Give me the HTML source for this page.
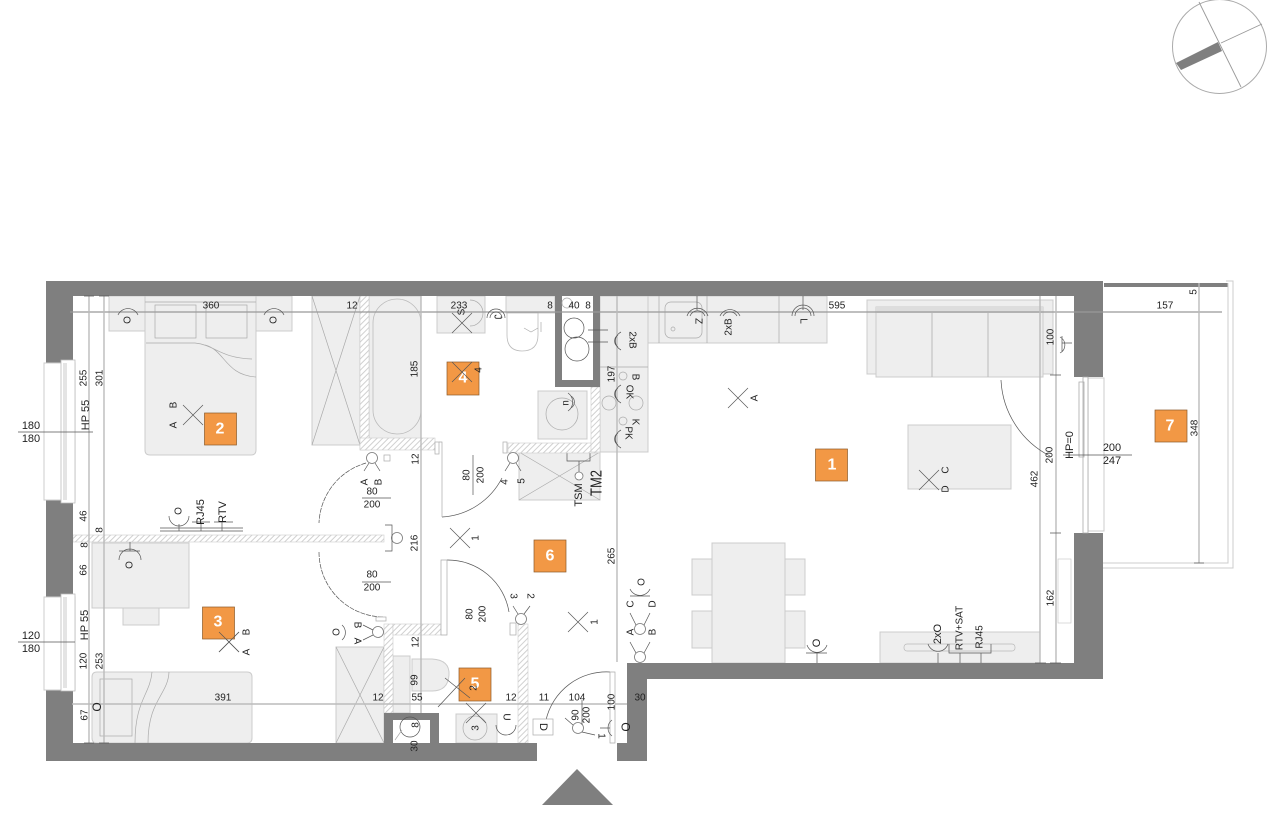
<!DOCTYPE html>
<html><head><meta charset="utf-8"><style>
html,body{margin:0;padding:0;background:#fff}
svg{display:block}
text{font-family:"Liberation Sans",sans-serif;font-size:10px;fill:#222;text-anchor:middle;dominant-baseline:central}
.o{font-size:16px;font-weight:bold;fill:#fff}
.f{fill:#eee;stroke:#ccc;stroke-width:1}
.w{fill:#7f7f7f}
.h{fill:url(#hatch);stroke:#ccc;stroke-width:.6}
.dim{stroke:#bbb;stroke-width:1.4;fill:none}
.d2{stroke:#999;stroke-width:1.3;fill:none}
.l{stroke:#aaa;stroke-width:.7;fill:none}
.k{stroke:#555;stroke-width:.7;fill:none}
.or{fill:#f29845;stroke:#8a5a2a;stroke-width:.7}
.c{fill:#fff;stroke:#777;stroke-width:.8}
.fr{fill:#fff;stroke:#aaa;stroke-width:.7}
</style></head><body>
<svg width="1280" height="832" viewBox="0 0 1280 832" xmlns="http://www.w3.org/2000/svg">
<defs>
<pattern id="hatch" width="4" height="4" patternUnits="userSpaceOnUse" patternTransform="rotate(45)"><rect width="4" height="4" fill="#fff"/><rect width="1" height="4" fill="#d0d0d0"/></pattern>
<g id="x"><path class="k" d="M-10-10L10 10M-10 10L10-10"/></g>
<g id="sw"><circle r="5.500" class="c"/><path class="k" d="M-3 5L-8 13M3 5L8 13"/></g>
</defs>
<rect width="1280" height="832" fill="#fff"/>

<!-- compass -->
<circle cx="1219.500" cy="46.500" r="47" fill="none" stroke="#aaa" stroke-width="1"/>
<path d="M1199 2L1241 87M1221 43L1262 24" stroke="#999" stroke-width=".9" fill="none"/>
<polygon points="1176,63 1218,42 1222,51 1181,70" fill="#7f7f7f"/>

<!-- balcony -->
<rect x="1104" y="283" width="124" height="4" fill="#7f7f7f"/>
<path d="M1103 563H1228V283M1103 568H1233V281H1226" fill="none" stroke="#ccc" stroke-width="1"/>

<!-- furniture -->
<rect class="f" x="109" y="296" width="36" height="35"/>
<rect class="f" x="256" y="296" width="36" height="35"/>
<path class="f" d="M145 296H256V450Q256 455 251 455H150Q145 455 145 450Z"/>
<path class="l" d="M145 302H256M146 343H195C215 345 220 358 252 359M205 345C225 350 225 375 256 377"/>
<rect class="l" x="155" y="305" width="41" height="33"/><rect class="l" x="206" y="305" width="41" height="33"/>
<rect class="f" x="312" y="296" width="48" height="149"/><path class="l" d="M312 296L360 445M360 296L312 445"/>
<rect class="f" x="369" y="296" width="52" height="144"/><rect x="373" y="299" width="48" height="135" rx="24" fill="none" stroke="#bbb" stroke-width=".8"/>
<rect class="f" x="92" y="543" width="97" height="65"/><rect class="f" x="123" y="608" width="36" height="17"/>
<path class="f" d="M97 672H247Q252 672 252 677V738Q252 743 247 743H97Q92 743 92 738V677Q92 672 97 672Z"/>
<rect class="l" x="100" y="679" width="32" height="57"/>
<path class="l" d="M152 672C150 695 135 700 135 743M169 672C168 695 148 700 148 743"/>
<rect class="f" x="336" y="647" width="48" height="96"/><path class="l" d="M336 647L384 743M384 647L336 743"/>

<!-- bathroom -->
<rect class="f" x="437" y="296" width="48" height="37"/>
<path class="l" d="M470 300A13 13 0 0 1 470 326"/>
<rect class="f" x="506" y="296" width="49" height="17"/>
<path d="M507 313H538V335Q538 351 522 351Q507 351 507 335Z" fill="#fff" stroke="#bbb" stroke-width=".8"/>
<path class="l" d="M524 328L531 332L538 328M541 322V332"/>
<rect class="f" x="538" y="391" width="49" height="48"/><circle cx="562" cy="414" r="16" class="l"/>
<path class="k" d="M568 393A11 11 0 0 1 568 411M571 396A7 7 0 0 1 571 408"/>
<path class="f" d="M519 452H600V500H519Z"/><path class="l" d="M519 452L600 500M519 500L600 452"/>
<path class="k" d="M567 452V461H590V452M579 461V472"/>

<!-- toilet / basin -->
<rect class="f" x="393" y="656" width="17" height="57"/>
<path d="M412 659H432Q450 660 449 675Q448 691 432 691H412Z" fill="#eee" stroke="#ccc"/>
<rect class="f" x="456" y="714" width="41" height="29"/><circle cx="475" cy="728" r="12" class="l"/>

<!-- kitchen -->
<rect class="f" x="600" y="296" width="227" height="47" stroke="none"/>
<rect class="f" x="600" y="296" width="48" height="156"/>
<path class="l" d="M659 296V343M707 296V343M779 296V343M600 367H648"/>
<rect x="665" y="302" width="37" height="36" rx="6" class="l"/>
<circle cx="673" cy="329" r="2" class="l"/>
<circle cx="623" cy="376" r="4" class="l"/><circle cx="623" cy="421" r="4" class="l"/>
<circle cx="609" cy="403" r="7" class="l"/><circle cx="636" cy="403" r="7" class="l"/>

<!-- living -->
<rect class="f" x="867" y="300" width="186" height="74"/>
<rect class="f" x="876" y="307" width="167" height="70"/>
<rect x="876" y="307" width="167" height="6" fill="#ddd"/>
<path d="M932 313V377M988 313V377" stroke="#bbb" stroke-width="1"/>
<rect class="f" x="908" y="425" width="103" height="64"/>
<rect class="f" x="712" y="543" width="73" height="120"/>
<rect class="f" x="692" y="559" width="20" height="36"/><rect class="f" x="692" y="611" width="20" height="37"/>
<rect class="f" x="785" y="559" width="20" height="36"/><rect class="f" x="785" y="611" width="20" height="37"/>
<rect class="f" x="880" y="632" width="160" height="31" stroke="none"/>
<rect x="904" y="644" width="111" height="7" rx="3" fill="none" stroke="#bbb" stroke-width=".7"/>
<rect x="1058" y="559" width="13" height="64" fill="#fff" stroke="#ccc" stroke-width=".7"/>

<!-- hatched partitions -->
<rect class="h" x="73" y="535" width="311" height="7"/>
<rect class="h" x="360" y="296" width="9" height="154"/>
<rect class="h" x="360" y="438" width="75" height="12"/>
<rect class="h" x="508" y="443" width="92" height="10"/>
<rect class="h" x="591" y="387" width="9" height="65"/>
<rect class="h" x="384" y="624" width="9" height="89"/>
<rect class="h" x="393" y="624" width="48" height="11"/>
<rect class="h" x="518" y="624" width="10" height="119"/>

<!-- walls -->
<rect class="w" x="46" y="281" width="1057" height="15"/>
<rect class="w" x="46" y="281" width="27" height="82"/>
<rect class="w" x="46" y="500" width="27" height="97"/>
<rect class="w" x="46" y="690" width="27" height="71"/>
<rect class="w" x="46" y="743" width="491" height="18"/>
<rect class="w" x="617" y="743" width="30" height="18"/>
<rect class="w" x="627" y="663" width="20" height="98"/>
<rect class="w" x="627" y="663" width="476" height="16"/>
<rect class="w" x="1074" y="281" width="29" height="96"/>
<rect class="w" x="1074" y="533" width="29" height="146"/>
<path class="w" fill-rule="evenodd" d="M555 296H600V387H555ZM562 296V380H593V296Z"/>
<path class="w" fill-rule="evenodd" d="M384 713H439V743H384ZM393 720V743H430V720Z"/>
<polygon class="w" points="542,805 577,769 613,805"/>

<!-- shaft fixtures -->
<circle cx="574" cy="328" r="10" class="k"/><circle cx="577" cy="349" r="12" class="k"/>
<circle cx="567" cy="303" r="5" class="l"/><path class="k" d="M588 342H608M588 330H608"/>
<circle cx="410" cy="727" r="10" class="k"/><path class="l" d="M395 740L402 730"/>

<!-- windows -->
<rect x="44" y="363" width="31" height="137" fill="#fff" stroke="#ccc"/>
<path d="M61 360H75V503H61ZM64 363V500M66 363V500" fill="#fff" stroke="#bbb" stroke-width=".8"/>
<rect x="44" y="597" width="31" height="93" fill="#fff" stroke="#ccc"/>
<path d="M61 594H75V691H61ZM64 597V688M66 597V688" fill="#fff" stroke="#bbb" stroke-width=".8"/>
<rect x="1088" y="378" width="16" height="153" fill="#fff" stroke="#ccc"/>
<path d="M1083 377H1088V533H1083ZM1079 382H1084V457H1079Z" fill="#fff" stroke="#aaa" stroke-width=".8"/>

<!-- dimension lines -->
<path class="d2" d="M70 312H1222"/>
<path class="dim" d="M72 704H627"/>
<path class="dim" d="M89 296V743M104 296V743M421 296V713M617 296V662M1040 296V663M1056 296V663M1199 283V563"/>
<path class="k" d="M84 296H94M99 296H109M84 743H94M99 743H109M1035 663H1046M1050 663H1061M1050 375H1061M1050 533H1061M1194 563H1204"/>

<!-- doors -->
<path class="k" d="M366 463A65 65 0 0 0 319 523M319 552A65 65 0 0 0 384 617" stroke-dasharray="5 1"/>
<rect x="376" y="617" width="10" height="4" class="fr"/>
<rect x="384" y="455" width="6" height="6" class="fr"/>
<path class="k" d="M442 517A72 72 0 0 0 502 478"/>
<path class="l" d="M439 442H442V517"/><rect x="435" y="442" width="4" height="12" class="fr"/>
<rect x="503" y="442" width="4" height="11" class="fr"/>
<path class="k" d="M447 560A62 62 0 0 1 509 612"/><path d="M447 560H441V635H447Z" class="fr"/>
<rect x="510" y="623" width="6" height="12" class="fr"/>
<path class="k" d="M546 720A62 62 0 0 1 610 672"/>
<path d="M610 672H615V743H610Z" class="fr"/>
<path class="k" d="M1001 380A90 90 0 0 0 1050 456"/>

<!-- ceiling lights -->
<use href="#x" x="193" y="415"/><use href="#x" x="229" y="642"/><use href="#x" x="460" y="538"/>
<use href="#x" x="578" y="622"/><use href="#x" x="738" y="398"/><use href="#x" x="929" y="480"/>
<use href="#x" x="462" y="323"/><use href="#x" x="476" y="713"/>

<!-- switches -->
<use href="#sw" x="372" y="458"/>
<circle cx="397" cy="538" r="5.500" class="c"/><path class="k" d="M385 525H392V551H385"/>
<circle cx="378" cy="632" r="5.500" class="c"/><path class="k" d="M373 630L363 625M373 635L363 640"/>
<use href="#sw" x="513" y="458"/>
<circle cx="521" cy="619" r="5.500" class="c"/><path class="k" d="M518 614L513 606M524 614L530 606"/>
<circle cx="640" cy="629" r="5.500" class="c"/>
<circle cx="640" cy="657" r="5.500" class="c"/>
<path class="k" d="M636 653L630 642M644 653L650 642M636 625L630 613M644 625L650 613"/>
<path class="k" d="M630 589A11 11 0 0 0 650 589M630 596H650"/>
<circle cx="578" cy="728" r="5.500" class="c"/><path class="k" d="M573 725L565 718M582 732L595 735"/>
<circle cx="579" cy="476" r="4" class="c"/>

<!-- sockets -->
<path class="k" d="M118 315A11 11 0 0 1 138 315M264 315A11 11 0 0 1 284 315"/>
<path class="k" d="M130 542V551M119 551H140M119 560A11 11 0 0 1 141 560"/>
<path class="k" d="M160 531H243M160 528H243M179 524V531M201 522V531M222 522V531M169 516A10 10 0 0 0 189 516M192 522H210M214 522H233"/>
<path class="k" d="M807 645A10.500 10.500 0 0 0 827 645M806 653H827M817 653V663"/>
<path class="k" d="M928 644A10.500 10.500 0 0 0 948 644M938 653V663M949 644V653H991V644M960 653V663M981 653V663"/>
<path class="k" d="M697 296V310M687 316A11 11 0 0 1 708 316M690 316A8 8 0 0 1 705 316"/>
<path class="k" d="M720 316A11 11 0 0 1 740 316M723 316A8 8 0 0 1 737 316"/>
<path class="k" d="M803 296V310M792 316A11 11 0 0 1 814 316M795 316A8 8 0 0 1 811 316"/>
<path class="k" d="M487 318A9 9 0 0 1 505 318M490 318A6 6 0 0 1 502 318"/>
<path class="k" d="M1060 337A9 9 0 0 1 1060 353M1062 336V352M1062 343H1072"/>
<path class="k" d="M621 332A10 10 0 0 0 621 350M618 335A7 7 0 0 0 618 347M621 385A10 10 0 0 0 621 403M618 388A7 7 0 0 0 618 400M621 430A10 10 0 0 0 621 448M618 433A7 7 0 0 0 618 445"/>
<path class="k" d="M342 625A10 10 0 0 1 342 640"/><path class="k" d="M496 725A10 10 0 0 0 516 725"/>
<rect x="533" y="719" width="20" height="16" class="fr"/>
<path class="k" d="M612 720A10 10 0 0 0 612 736M600 728H610"/>

<!-- room numbers -->
<rect class="or" x="204.500" y="413" width="32" height="32"/><text class="o" x="220" y="429">2</text>
<rect class="or" x="202.500" y="607" width="32" height="32"/><text class="o" x="218" y="622">3</text>
<rect class="or" x="447" y="362" width="32" height="33"/><text class="o" x="463" y="378">4</text>
<rect class="or" x="459" y="668" width="32" height="33"/><text class="o" x="475" y="684">5</text>
<rect class="or" x="534" y="540" width="32" height="32"/><text class="o" x="550" y="556">6</text>
<rect class="or" x="815.500" y="449" width="32" height="32"/><text class="o" x="832" y="465">1</text>
<rect class="or" x="1155" y="410" width="32" height="32"/><text class="o" x="1170" y="426">7</text>
<use href="#x" x="462" y="372"/>
<path class="k" d="M438 707L465 678M445 678L470 698"/>
<path class="k" d="M219 632L239 652M239 632L219 652"/>

<!-- horizontal labels -->
<text x="211" y="306">360</text><text x="352" y="306">12</text><text x="459" y="306">233</text>
<text x="550" y="306">8</text><text x="574" y="306">40</text><text x="588" y="306">8</text>
<text x="837" y="306">595</text><text x="1165" y="306">157</text>
<text x="223" y="698">391</text><text x="378" y="698">12</text><text x="511" y="698">12</text>
<text x="544" y="698">11</text><text x="577" y="698">104</text><text x="640" y="698">30</text><text x="417" y="698">55</text>
<text x="372" y="492">80</text><text x="372" y="505">200</text><path class="k" d="M362 498H391"/>
<text x="372" y="575">80</text><text x="372" y="588">200</text><path class="k" d="M362 582H391"/>
<text x="31" y="426" style="font-size:11px">180</text><text x="31" y="439" style="font-size:11px">180</text><path class="k" d="M18 432H93"/>
<text x="31" y="636" style="font-size:11px">120</text><text x="31" y="649" style="font-size:11px">180</text><path class="k" d="M18 642H75"/>
<text x="1112" y="448" style="font-size:11px">200</text><text x="1112" y="461" style="font-size:11px">247</text><path class="k" d="M1063 455H1132"/>

<!-- rotated labels -->
<g>
<text transform="translate(84,378) rotate(-90)">255</text>
<text transform="translate(100,378) rotate(-90)">301</text>
<text transform="translate(86,415) rotate(-90)" style="font-size:11px">HP 55</text>
<text transform="translate(84,516) rotate(-90)">46</text>
<text transform="translate(100,530) rotate(-90)">8</text>
<text transform="translate(85,545) rotate(-90)">8</text>
<text transform="translate(84,570) rotate(-90)">66</text>
<text transform="translate(85,625) rotate(-90)" style="font-size:11px">HP 55</text>
<text transform="translate(84,661) rotate(-90)">120</text>
<text transform="translate(100,661) rotate(-90)">253</text>
<text transform="translate(85,715) rotate(-90)">67</text>
<text transform="translate(415,369) rotate(-90)">185</text>
<text transform="translate(416,459) rotate(-90)">12</text>
<text transform="translate(416,642) rotate(-90)">12</text>
<text transform="translate(415,543) rotate(-90)">216</text>
<text transform="translate(415,680) rotate(-90)">99</text>
<text transform="translate(415,746) rotate(-90)">30</text>
<text transform="translate(416,725) rotate(-90)">8</text>
<text transform="translate(467,475) rotate(-90)">80</text>
<text transform="translate(481,475) rotate(-90)">200</text>
<path class="k" d="M473 455V495"/>
<text transform="translate(470,614) rotate(-90)">80</text>
<text transform="translate(483,614) rotate(-90)">200</text>
<text transform="translate(576,715) rotate(-90)">90</text>
<text transform="translate(587,715) rotate(-90)">200</text>
<path class="k" d="M582 700V725"/>
<text transform="translate(612,374) rotate(-90)">197</text>
<text transform="translate(612,556) rotate(-90)">265</text>
<text transform="translate(612,702) rotate(-90)">100</text>
<text transform="translate(1050,455) rotate(-90)">200</text>
<text transform="translate(1035,479) rotate(-90)">462</text>
<text transform="translate(1051,337) rotate(-90)">100</text>
<text transform="translate(1051,598) rotate(-90)">162</text>
<text transform="translate(1195,428) rotate(-90)">348</text>
<text transform="translate(1194,292) rotate(-90)">5</text>
<text transform="translate(1070,445) rotate(-90)" style="font-size:11px">HP=0</text>
<text transform="translate(597,483) rotate(-90)" textLength="26" lengthAdjust="spacingAndGlyphs" style="font-size:16px">TM2</text>
<text transform="translate(579,495) rotate(-90)" style="font-size:11px">TSM</text>

<text transform="translate(174,425) rotate(-90)">A</text><text transform="translate(174,405) rotate(-90)">B</text>
<text transform="translate(128,320) rotate(-90)">O</text><text transform="translate(274,320) rotate(-90)">O</text>
<text transform="translate(179,511) rotate(-90)">O</text><text transform="translate(201,512) rotate(-90)" style="font-size:11px">RJ45</text><text transform="translate(223,512) rotate(-90)" style="font-size:11px">RTV</text>
<text transform="translate(130,565) rotate(-90)">O</text>
<text transform="translate(365,482) rotate(-90)">A</text><text transform="translate(379,482) rotate(-90)">B</text>
<text transform="translate(247,632) rotate(-90)">B</text><text transform="translate(247,652) rotate(-90)">A</text>
<text transform="translate(97,707) rotate(-90)" style="font-size:12px">O</text>
<text transform="translate(335,632) rotate(90)">O</text>
<text transform="translate(357,625) rotate(90)">B</text><text transform="translate(357,641) rotate(90)">A</text>
<text transform="translate(479,370) rotate(-90)">4</text>
<text transform="translate(505,482) rotate(-90)">4</text><text transform="translate(522,481) rotate(-90)">5</text>
<text transform="translate(476,538) rotate(-90)">1</text>
<text transform="translate(595,622) rotate(-90)">1</text>
<text transform="translate(513,596) rotate(90)">3</text><text transform="translate(530,596) rotate(90)">2</text>
<text transform="translate(474,688) rotate(-90)">2</text>
<text transform="translate(476,728) rotate(-90)">3</text>
<text transform="translate(506,717) rotate(90)">U</text>
<text transform="translate(543,727) rotate(90)" style="font-size:11px">D</text>
<text transform="translate(626,727) rotate(-90)" style="font-size:12px">O</text>
<text transform="translate(601,736) rotate(90)">1</text>
<text transform="translate(462,312) rotate(-90)">S</text>
<text transform="translate(497,317) rotate(90)">J</text>
<text transform="translate(566,403) rotate(-90)">n</text>
<text transform="translate(632,340) rotate(90)">2xB</text>
<text transform="translate(635,377) rotate(90)">B</text>
<text transform="translate(629,392) rotate(90)">OK</text>
<text transform="translate(635,422) rotate(90)">K</text>
<text transform="translate(628,433) rotate(90)">PK</text>
<text transform="translate(698,321) rotate(90)">Z</text>
<text transform="translate(729,327) rotate(-90)">2xB</text>
<text transform="translate(803,321) rotate(90)">L</text>
<text transform="translate(755,398) rotate(-90)">A</text>
<text transform="translate(946,470) rotate(-90)">C</text><text transform="translate(946,489) rotate(-90)">D</text>
<text transform="translate(642,582) rotate(-90)">O</text>
<text transform="translate(631,604) rotate(-90)">C</text><text transform="translate(653,604) rotate(-90)">D</text>
<text transform="translate(631,632) rotate(-90)">A</text><text transform="translate(653,632) rotate(-90)">B</text>
<text transform="translate(817,643) rotate(-90)" style="font-size:11px">O</text>
<text transform="translate(938,634) rotate(-90)" style="font-size:11px">2xO</text>
<text transform="translate(960,628) rotate(-90)">RTV+SAT</text>
<text transform="translate(980,637) rotate(-90)">RJ45</text>
</g>
</svg>
</body></html>
